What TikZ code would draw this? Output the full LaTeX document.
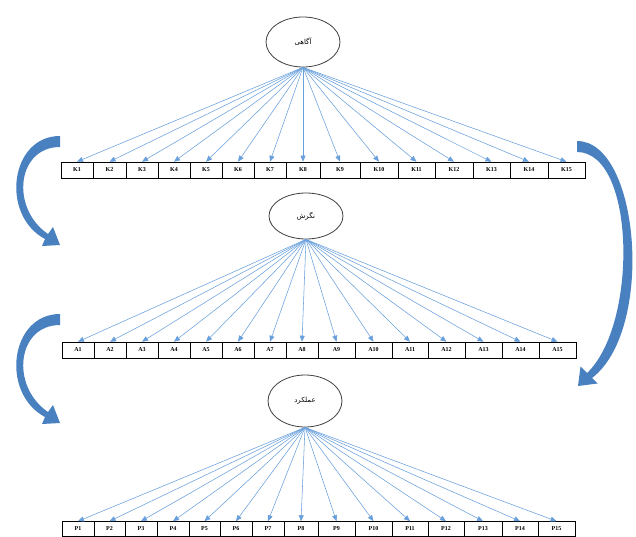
\documentclass[tikz,border=0pt]{standalone}
\usepackage{fontspec}
\setmainfont{Liberation Serif}
\newfontfamily\arabicfont[Script=Arabic]{DejaVu Sans}
\TeXXeTstate=1
\usetikzlibrary{arrows.meta,shapes.geometric}
\definecolor{fanblue}{RGB}{105,160,220}
\definecolor{curveblue}{RGB}{72,128,192}
\tikzset{
  latent/.style={ellipse,draw=black!75,line width=0.8pt,fill=white,minimum width=74pt,minimum height=50pt,inner sep=0pt,font=\arabicfont\fontsize{7}{8}\selectfont},
  cell/.style={rectangle,draw=black,line width=0.6pt,minimum height=16pt,inner sep=0pt,font=\bfseries\fontsize{6}{7}\selectfont},
  fan/.style={draw=fanblue,line width=0.55pt,-{Triangle[length=6pt,width=5pt]}},
  bigarrow/.style={fill=curveblue,draw=none}
}
\begin{document}
\begin{tikzpicture}[x=1pt,y=-1pt]
\useasboundingbox (0,0) rectangle (636,537);

% latent variables
\node[latent] (E1) at (303,42) {\beginR آگاهی\endR};
\node[latent,minimum height=46pt] (E2) at (306,216) {\beginR نگرش\endR};
\node[latent,minimum height=52pt] (E3) at (305,401) {\beginR عملکرد\endR};

% indicator rows
\foreach \c/\w [count=\i] in {77/32,109.5/33,142/32,174/32,206/32,238/32,270/32,303/34,340/40,379/38,416.5/37,454/38,491.5/37,529/38,566.5/37}
  \node[cell,minimum width=\w pt] (K\i) at (\c,170) {K\i};
\foreach \c/\w [count=\i] in {78/32,110/32,142/32,174/32,206/32,238/32,270/32,302/32,336.5/37,373.5/37,410/36,446.5/37,483.5/37,520.5/37,557.5/37}
  \node[cell,minimum width=\w pt] (A\i) at (\c,350) {A\i};
\foreach \c/\w [count=\i] in {78/32,109.5/31,141/32,173/32,204.5/31,236/32,268/32,301/34,336.5/37,373.5/37,410/36,446/36,483/38,520/36,556.5/37}
  \node[cell,minimum width=\w pt,minimum height=15pt] (P\i) at (\c,529) {P\i};

% loadings
\foreach \i in {1,...,15} {
  \draw[fan] (E1.south) -- (K\i.north);
  \draw[fan] (E2.south) -- (A\i.north);
  \draw[fan] (E3.south) -- (P\i.north);
}

% curved block arrows
\fill[bigarrow] (60,136) .. controls (10,136) and (0,215) .. (45,239) -- (42,246) -- (60,245) -- (53,227) -- (48,234) .. controls (10,208) and (17,147) .. (60,147) -- cycle;
\fill[bigarrow,shift={(0,178)}] (60,136) .. controls (10,136) and (0,215) .. (45,239) -- (42,246) -- (60,245) -- (53,227) -- (48,234) .. controls (10,208) and (17,147) .. (60,147) -- cycle;
\fill[bigarrow] (577,141) .. controls (640,141) and (655,330) .. (592,378) -- (597.5,383.5) -- (578,386) -- (580.5,366.5) -- (587,373) .. controls (638,325) and (636,152) .. (577,152) -- cycle;
\end{tikzpicture}
\end{document}
